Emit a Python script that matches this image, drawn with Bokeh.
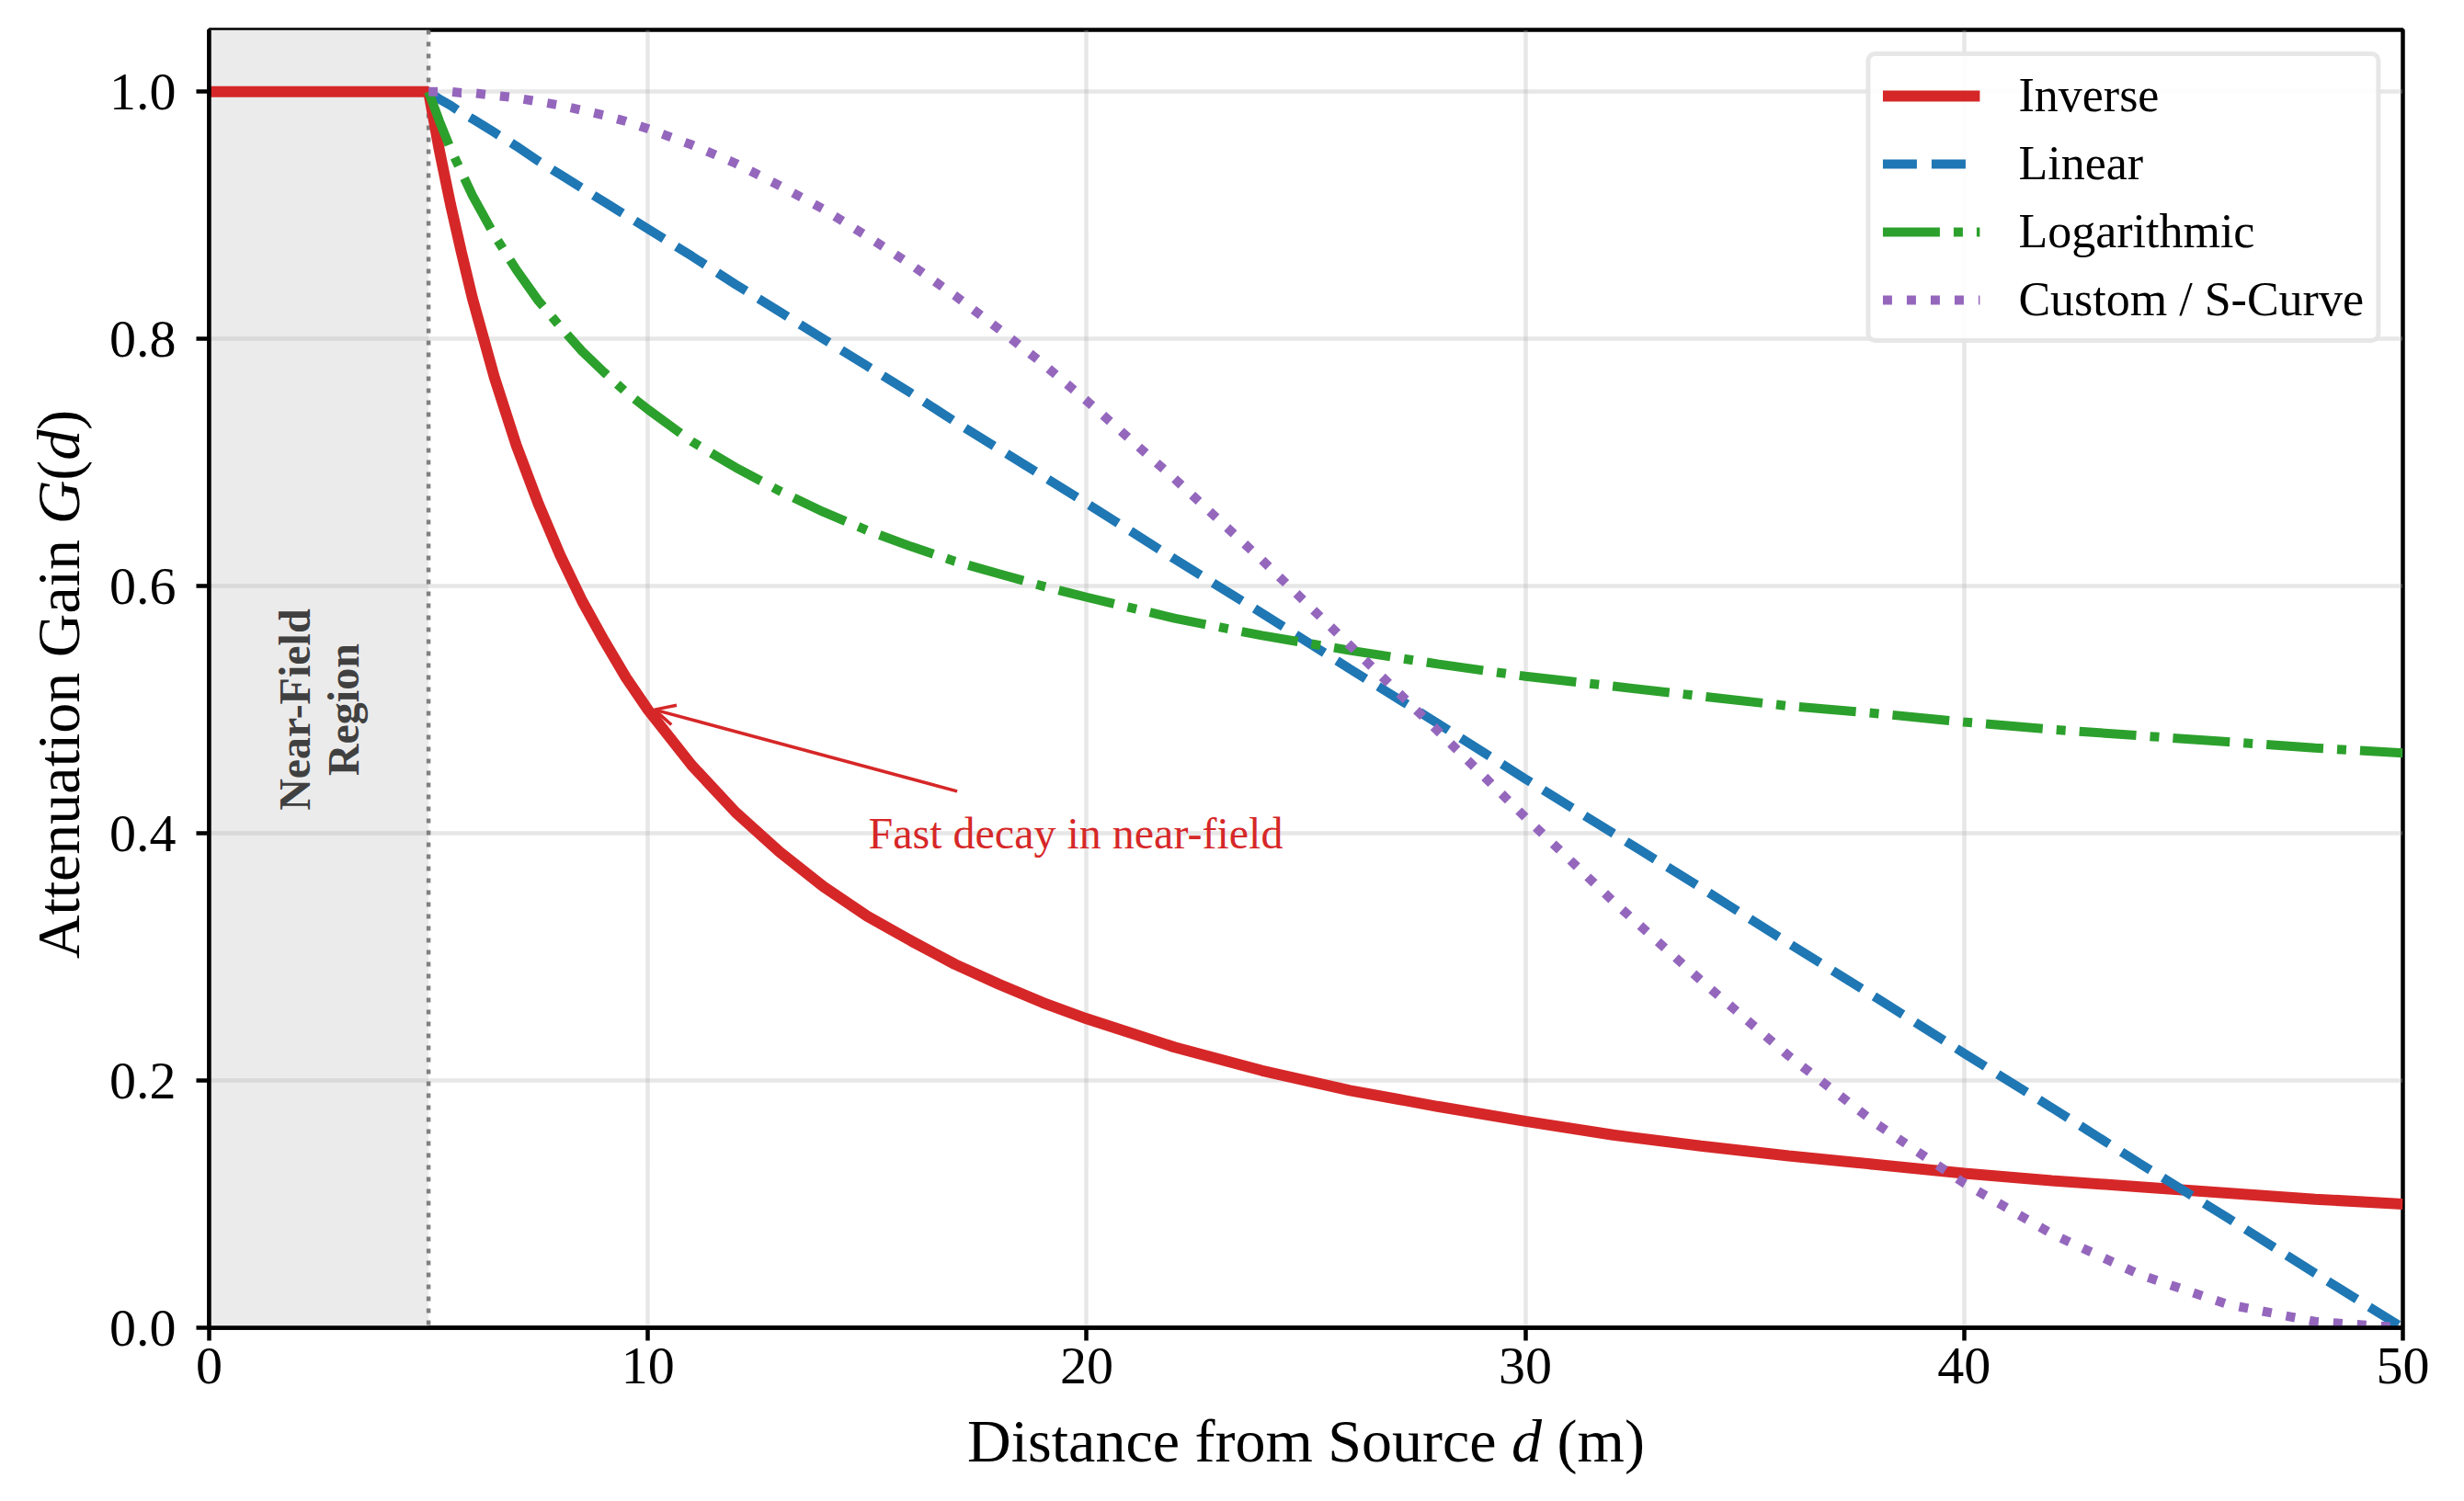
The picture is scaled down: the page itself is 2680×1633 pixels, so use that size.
import math

from bokeh.plotting import figure
from bokeh.layouts import row, column
from bokeh.models import (Range1d, FixedTicker, NumeralTickFormatter, BoxAnnotation,
                          Span, Label, Arrow, OpenHead)
from bokeh.embed import file_html
from bokeh.resources import INLINE

# values
distance = [0, 5, 5.25, 5.5, 5.75, 6, 6.5, 7, 7.5, 8, 8.5, 9, 9.5, 10,
            11, 12, 13, 14, 15, 16, 17, 18, 19, 20,
            22, 24, 26, 28, 30, 32, 34, 36, 38, 40, 42, 44, 46, 48, 50]
gain_inverse = [1.0, 1.0, 0.952, 0.909, 0.87, 0.833, 0.769, 0.714, 0.667, 0.625, 0.588,
                0.556, 0.526, 0.5, 0.455, 0.417, 0.385, 0.357, 0.333, 0.313, 0.294,
                0.278, 0.263, 0.25, 0.227, 0.208, 0.192, 0.179, 0.167, 0.156, 0.147,
                0.139, 0.132, 0.125, 0.119, 0.114, 0.109, 0.104, 0.1]
# the other curves start at the near-field edge (d = 5)
distance_far = distance[1:]
gain_linear = [1.0, 0.994, 0.989, 0.983, 0.978, 0.967, 0.956, 0.944, 0.933, 0.922, 0.911,
               0.9, 0.889, 0.867, 0.844, 0.822, 0.8, 0.778, 0.756, 0.733, 0.711, 0.689,
               0.667, 0.622, 0.578, 0.533, 0.489, 0.444, 0.4, 0.356, 0.311, 0.267,
               0.222, 0.178, 0.133, 0.089, 0.044, 0.0]
gain_log = [1.0, 0.976, 0.954, 0.935, 0.916, 0.884, 0.856, 0.831, 0.81, 0.79, 0.773,
            0.757, 0.743, 0.717, 0.696, 0.677, 0.66, 0.645, 0.632, 0.62, 0.61, 0.6,
            0.591, 0.574, 0.56, 0.548, 0.537, 0.527, 0.519, 0.511, 0.503, 0.497,
            0.49, 0.484, 0.479, 0.474, 0.469, 0.465]
gain_scurve = [1.0, 1.0, 1.0, 0.999, 0.999, 0.997, 0.995, 0.992, 0.989, 0.985, 0.981,
               0.976, 0.97, 0.957, 0.942, 0.924, 0.905, 0.883, 0.86, 0.835, 0.808, 0.78,
               0.75, 0.687, 0.621, 0.552, 0.483, 0.413, 0.345, 0.281, 0.22, 0.165,
               0.117, 0.076, 0.043, 0.019, 0.005, 0.0]

x_ticks = [0, 10, 20, 30, 40, 50]
y_ticks = [0.0, 0.2, 0.4, 0.6, 0.8, 1.0]
near_field_end = 5

RED = "#d62728"
BLUE = "#1f77b4"
GREEN = "#2ca02c"
PURPLE = "#9467bd"
FONT = "Liberation Serif"

p = figure(frame_width=2386, frame_height=1412, output_backend="svg", toolbar_location=None,
           x_range=Range1d(0, 50), y_range=Range1d(0, 1.05),
           min_border_left=117, min_border_right=59, min_border_top=32, min_border_bottom=86)
p.background_fill_color = "white"
p.border_fill_color = "white"
p.outline_line_color = "black"
p.outline_line_width = 4.5

# near-field shading and boundary
p.add_layout(BoxAnnotation(left=0, right=near_field_end, fill_color="#ebebeb", fill_alpha=1.0,
                           line_alpha=0, level="image"))
p.add_layout(Span(location=near_field_end, dimension="height", line_color="#808080",
                  line_width=4.5, line_dash="5 8", level="underlay"))

p.line(distance, gain_inverse, line_color=RED, line_width=12, legend_label="Inverse")
p.line(distance_far, gain_linear, line_color=BLUE, line_width=10, line_dash="37 16",
       legend_label="Linear")
p.line(distance_far, gain_log, line_color=GREEN, line_width=10, line_dash="62 15 10 15",
       legend_label="Logarithmic")
p.line(distance_far, gain_scurve, line_color=PURPLE, line_width=10, line_dash="10 16",
       legend_label="Custom / S-Curve")

# axes
for ax in (p.xaxis[0], p.yaxis[0]):
    ax.axis_line_width = 4.5
    ax.major_tick_line_width = 4.5
    ax.major_tick_out = 14
    ax.major_tick_in = 0
    ax.minor_tick_line_color = None
    ax.major_label_text_font = FONT
    ax.major_label_text_font_size = "58px"
    ax.major_label_text_color = "black"
p.xaxis.ticker = FixedTicker(ticks=x_ticks)
p.yaxis.ticker = FixedTicker(ticks=y_ticks)
p.yaxis.formatter = NumeralTickFormatter(format="0.0")
p.xaxis.major_label_standoff = 8
p.yaxis.major_label_standoff = 22

p.grid.grid_line_color = "#b0b0b0"
p.grid.grid_line_alpha = 0.3
p.grid.grid_line_width = 4.5

# in-plot notes
p.add_layout(Label(x=2.5, y=0.5, text="Near-Field\nRegion", angle=math.pi / 2,
                   text_font=FONT, text_font_size="48px", text_font_style="bold",
                   text_color="#404040", text_align="center", text_baseline="middle",
                   text_line_height=1.0))
p.add_layout(Arrow(end=OpenHead(size=22, line_color=RED, line_width=3.5),
                   x_start=17.05, y_start=0.434, x_end=10.15, y_end=0.5,
                   line_color=RED, line_width=3.5))
p.add_layout(Label(x=19.75, y=0.40, text="Fast decay in near-field", text_font=FONT,
                   text_font_size="48px", text_color=RED, text_align="center",
                   text_baseline="alphabetic"))

# legend
p.legend.location = "top_right"
p.legend.margin = 24
p.legend.padding = 13
p.legend.spacing = 15
p.legend.glyph_width = 106
p.legend.glyph_height = 54
p.legend.label_height = 54
p.legend.label_standoff = 42
p.legend.label_text_font = FONT
p.legend.label_text_font_size = "52px"
p.legend.label_text_color = "black"
p.legend.border_line_color = "#d0d0d0"
p.legend.border_line_width = 5
p.legend.background_fill_color = "white"
p.legend.background_fill_alpha = 0.9
p.legend.border_radius = 10


# axis titles live in two thin text-only figures so the symbols can be italic
def text_panel(w, h):
    f = figure(frame_width=w, frame_height=h, output_backend="svg", toolbar_location=None,
               title=None, x_axis_type=None, y_axis_type=None, min_border=0,
               x_range=Range1d(0, 1), y_range=Range1d(0, 1))
    f.outline_line_color = None
    f.background_fill_color = "white"
    f.border_fill_color = "white"
    return f


def piece(f, txt, x, y, style="normal", angle=0.0):
    f.add_layout(Label(x=x, y=y, x_units="screen", y_units="screen", text=txt, angle=angle,
                       text_font=FONT, text_font_size="66px", text_font_style=style,
                       text_color="black", text_align="left", text_baseline="alphabetic"))


em = 66
ylab = text_panel(110, 1530)
y0 = 818 - 9.054 * em / 2
piece(ylab, "Attenuation Gain", 63, y0, angle=math.pi / 2)
piece(ylab, "G", 63, y0 + 7.166 * em, "italic", math.pi / 2)
piece(ylab, "(", 63, y0 + 7.888 * em, angle=math.pi / 2)
piece(ylab, "d", 63, y0 + 8.221 * em, "italic", math.pi / 2)
piece(ylab, ")", 63, y0 + 8.721 * em, angle=math.pi / 2)

xlab = text_panel(2672, 95)
x0 = 1420 - 11.164 * em / 2
piece(xlab, "Distance from Source", x0, 58)
piece(xlab, "d", x0 + 8.97 * em, 58, "italic")
piece(xlab, "(m)", x0 + 9.72 * em, 58)

page = column(row(ylab, p, spacing=0), xlab, spacing=0)

open("out.html", "w").write(file_html(page, INLINE))
